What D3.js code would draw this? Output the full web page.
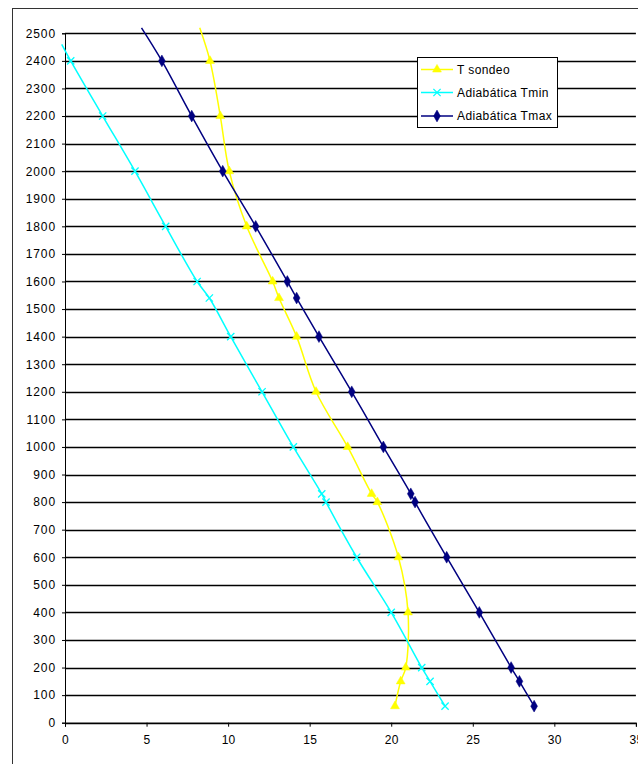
<!DOCTYPE html>
<html>
<head>
<meta charset="utf-8">
<script src="https://cdn.jsdelivr.net/npm/d3@7"></script>
<style>
  html, body { margin: 0; padding: 0; background: #fff; }
  svg { display: block; }
  text { font-family: "Liberation Sans", Arial, sans-serif; fill: #000; }
</style>
</head>
<body>
<svg id="chart" width="638" height="764"></svg>
<script>
// ---- Data ----
const altitudes = [2400, 2200, 2000, 1800, 1600, 1540, 1400, 1200, 1000, 830, 800, 600, 400, 200, 150, 60];
const tSondeo   = [8.89, 9.52, 10.07, 11.14, 12.73, 13.12, 14.2, 15.39, 17.33, 18.8, 19.15, 20.44, 21.03, 20.89, 20.58, 20.23];
const adiabTmin = [0.35, 2.31, 4.29, 6.17, 8.1, 8.85, 10.16, 12.08, 14.0, 15.74, 16.0, 17.88, 20.0, 21.87, 22.38, 23.3];
const adiabTmax = [5.94, 7.77, 9.67, 11.69, 13.63, 14.2, 15.57, 17.58, 19.52, 21.2, 21.46, 23.4, 25.4, 27.35, 27.86, 28.76];
// unmarked top end points of each line
const topAltitude = [2520, 2460, 2520];
const topTemp     = [8.26, -0.2, 4.69];

const seriesNames = ["T sondeo", "Adiabática Tmin", "Adiabática Tmax"];
const seriesColors = ["#FFFF00", "#00FFFF", "#000080"];
const seriesValues = [tSondeo, adiabTmin, adiabTmax];

const xTicks = [0, 5, 10, 15, 20, 25, 30, 35];
const yTicks = d3.range(0, 2501, 100);

// ---- Layout ----
const svg = d3.select("#chart");
const x = d3.scaleLinear().domain([0, 35]).range([65, 635.9]);
const y = d3.scaleLinear().domain([0, 2500]).range([722.7, 33.3]);

// outer chart frame
svg.append("rect").attr("x", 12.5).attr("y", 8.5).attr("width", 700).attr("height", 800)
  .attr("fill", "none").attr("stroke", "#333").attr("stroke-width", 1);

// gridlines
svg.append("g").selectAll("line").data(yTicks).join("line")
  .attr("x1", x(0)).attr("x2", x(35))
  .attr("y1", d => Math.round(y(d)) + 0.5).attr("y2", d => Math.round(y(d)) + 0.5)
  .attr("stroke", "#000").attr("stroke-width", 1.3);

// y axis
const yAxis = svg.append("g").attr("transform", `translate(${x(0)},0)`)
  .call(d3.axisLeft(y).tickValues(yTicks).tickSize(3).tickPadding(6).tickFormat(d3.format("d")));
yAxis.select(".domain").attr("stroke", "#000");
yAxis.selectAll(".tick line").attr("stroke", "#000");
yAxis.selectAll("text").attr("font-size", 12).attr("letter-spacing", "0.9px")
  .attr("font-family", "Liberation Sans, Arial, sans-serif").attr("fill", "#222");

// x axis
const xAxis = svg.append("g").attr("transform", `translate(0,${y(0)})`)
  .call(d3.axisBottom(x).tickValues(xTicks).tickSize(4).tickPadding(9).tickFormat(d3.format("d")));
xAxis.select(".domain").attr("stroke", "#000");
xAxis.selectAll(".tick line").attr("stroke", "#000");
xAxis.selectAll("text").attr("font-size", 12).attr("letter-spacing", "0.3px")
  .attr("font-family", "Liberation Sans, Arial, sans-serif").attr("fill", "#222");

// ---- Series ----
const line = d3.line().x(d => x(d.t)).y(d => y(d.h)).curve(d3.curveCatmullRom.alpha(0.5));
const symbols = [
  d3.symbol().type(d3.symbolTriangle).size(34),
  d3.symbol().type(d3.symbolTimes).size(36),
  d3.symbol().type(d3.symbolDiamond).size(40)
];

seriesValues.forEach((vals, i) => {
  const pts = vals.map((t, k) => ({ t, h: altitudes[k] }));
  const full = [{ t: topTemp[i], h: topAltitude[i] }].concat(pts);
  const g = svg.append("g");
  g.append("path").datum(full).attr("d", line)
    .attr("fill", "none").attr("stroke", seriesColors[i]).attr("stroke-width", 1.5);
  g.selectAll("path.m").data(pts).join("path").attr("class", "m")
    .attr("transform", d => `translate(${x(d.t)},${y(d.h)})`)
    .attr("d", symbols[i])
    .attr("fill", i === 1 ? "none" : seriesColors[i])
    .attr("stroke", seriesColors[i]).attr("stroke-width", i === 1 ? 1.3 : 0.5);
});

// ---- Legend ----
const lg = svg.append("g");
lg.append("rect").attr("x", 417.5).attr("y", 57.5).attr("width", 140).attr("height", 70)
  .attr("fill", "#fff").attr("stroke", "#000").attr("stroke-width", 1);
const legendY = [69.5, 92.5, 116];
seriesNames.forEach((name, i) => {
  lg.append("line").attr("x1", 421).attr("x2", 453).attr("y1", legendY[i]).attr("y2", legendY[i])
    .attr("stroke", seriesColors[i]).attr("stroke-width", 1.5);
  lg.append("path").attr("transform", `translate(437,${legendY[i]})`).attr("d", symbols[i])
    .attr("fill", i === 1 ? "none" : seriesColors[i])
    .attr("stroke", seriesColors[i]).attr("stroke-width", i === 1 ? 1.3 : 0.5);
  lg.append("text").attr("x", 457).attr("y", legendY[i]).attr("dy", "0.35em")
    .attr("font-size", 12).attr("letter-spacing", "0.4px").attr("fill", "#222").text(name);
});
</script>
</body>
</html>
